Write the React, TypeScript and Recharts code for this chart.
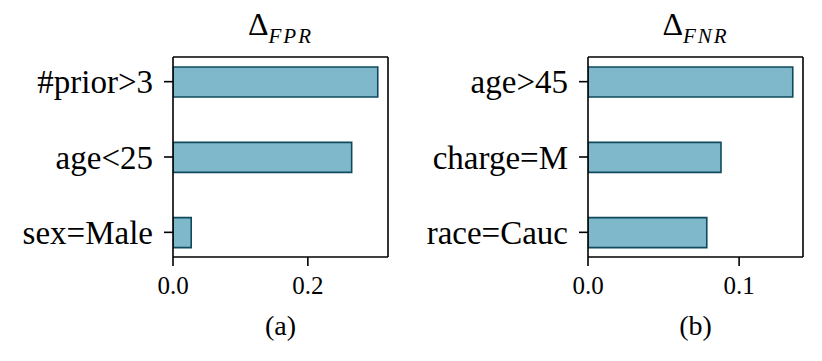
import { BarChart, Bar, XAxis, YAxis, Label } from 'recharts'

const fprLabels = ['#prior>3', 'age<25', 'sex=Male']
const fprValues = [0.3037, 0.265, 0.027]
const fprTicks = [0, 0.2]

const fnrLabels = ['age>45', 'charge=M', 'race=Cauc']
const fnrValues = [0.1355, 0.088, 0.0786]
const fnrTicks = [0, 0.1]

const FONT = 'Liberation Serif'
const FILL = '#7fb8ca'
const EDGE = '#0f4a5c'
const AXIS = { stroke: '#000', strokeWidth: 1.6 }

interface PanelProps {
  labels: string[]
  values: number[]
  ticks: number[]
  sub: string
  caption: string
  left: number
  yWidth: number
  rightMargin: number
}

function Panel({ labels, values, ticks, sub, caption, left, yWidth, rightMargin }: PanelProps) {
  const data = labels.map((label, i) => ({ label, value: values[i] }))
  // matplotlib-style 5% margin past the longest bar
  const xMax = Math.max(...values) * 1.05

  return (
    <div style={{ position: 'absolute', left, top: 0 }}>
      <BarChart
        width={410}
        height={361}
        data={data}
        layout="vertical"
        margin={{ top: 56, right: rightMargin - 1, bottom: 74, left: 0 }}
      >
        <XAxis
          type="number"
          domain={[0, xMax]}
          ticks={ticks}
          allowDataOverflow
          tickFormatter={(v: number) => v.toFixed(1)}
          tick={{ fontSize: 25, fill: '#000', fontFamily: FONT }}
          tickLine={AXIS}
          axisLine={AXIS}
          tickSize={9}
          tickMargin={10}
          height={30}
        >
          <Label
            content={(props: any) => {
              const vb = props.viewBox
              return (
                <text
                  x={vb.x + vb.width / 2}
                  y={vb.y + 78}
                  textAnchor="middle"
                  fontSize={28}
                  fontFamily={FONT}
                  fill="#000"
                >
                  {caption}
                </text>
              )
            }}
          />
        </XAxis>
        <XAxis
          xAxisId="top"
          orientation="top"
          type="number"
          domain={[0, xMax]}
          allowDataOverflow
          tick={false}
          tickLine={false}
          axisLine={AXIS}
          height={1}
        >
          <Label
            content={(props: any) => {
              const vb = props.viewBox
              return (
                <text
                  x={vb.x + vb.width / 2}
                  y={vb.y - 21}
                  textAnchor="middle"
                  fontFamily={FONT}
                  fill="#000"
                >
                  <tspan fontSize={32}>Δ</tspan>
                  <tspan fontSize={21} fontStyle="italic" dy={8} letterSpacing={2}>
                    {sub}
                  </tspan>
                </text>
              )
            }}
          />
        </XAxis>
        <YAxis
          type="category"
          dataKey="label"
          width={yWidth}
          padding={{ top: -13, bottom: -13 }}
          tick={{ fontSize: 33, fill: '#000', fontFamily: FONT }}
          tickLine={AXIS}
          axisLine={AXIS}
          tickSize={9}
          tickMargin={11}
          interval={0}
        />
        <YAxis
          yAxisId="right"
          orientation="right"
          type="category"
          dataKey="label"
          width={1}
          tick={false}
          tickLine={false}
          axisLine={AXIS}
        />
        {/* invisible copy so the top/right frame axes get drawn */}
        <Bar
          xAxisId="top"
          yAxisId="right"
          dataKey="value"
          fill="none"
          stroke="none"
          barSize={1}
          isAnimationActive={false}
        />
        <Bar
          dataKey="value"
          fill={FILL}
          stroke={EDGE}
          strokeWidth={1.6}
          barSize={30}
          isAnimationActive={false}
        />
      </BarChart>
    </div>
  )
}

export default function App() {
  return (
    <div style={{ position: 'absolute', left: 0, top: 0, width: 822, height: 361, background: '#fff' }}>
      <Panel
        labels={fprLabels}
        values={fprValues}
        ticks={fprTicks}
        sub="FPR"
        caption="(a)"
        left={0}
        yWidth={173}
        rightMargin={22}
      />
      <Panel
        labels={fnrLabels}
        values={fnrValues}
        ticks={fnrTicks}
        sub="FNR"
        caption="(b)"
        left={410}
        yWidth={178}
        rightMargin={17}
      />
    </div>
  )
}
